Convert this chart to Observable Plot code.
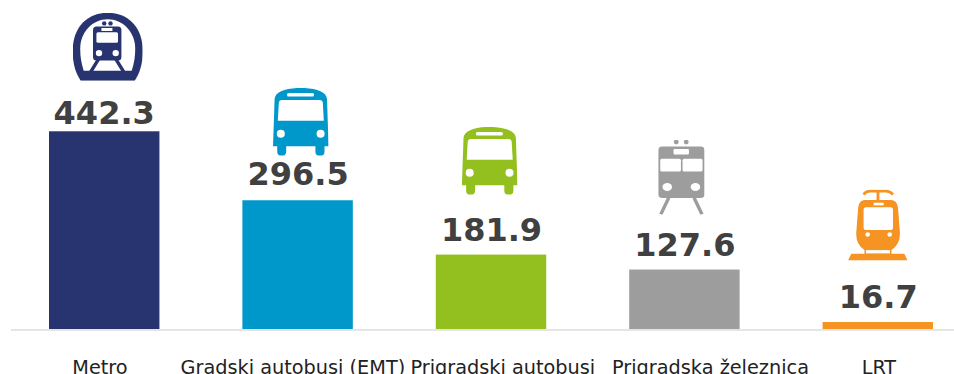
<!DOCTYPE html>
<html>
<head>
<meta charset="utf-8">
<script src="https://cdn.jsdelivr.net/npm/d3@7"></script>
<script src="https://cdn.jsdelivr.net/npm/@observablehq/plot@0.6"></script>
<style>
html,body{margin:0;padding:0;background:#fff;overflow:hidden}
svg{display:block}
</style>
</head>
<body>
<div id="chart"></div>
<script>
const categories = ["Metro", "Gradski autobusi (EMT)", "Prigradski autobusi", "Prigradska železnica", "LRT"];
// Values printed above the bars
const labelValues = [442.3, 296.5, 181.9, 127.6, 16.7];
// Bar lengths as drawn in the picture: the reference's bars are not exactly proportional to their printed labels
const barLengths = [442.3, 288, 166.5, 133, 15.6];
const palette = ["#27346f", "#0098cb", "#93c01f", "#9d9d9d", "#f59423"];

const busGlyph = (c) => `<svg xmlns="http://www.w3.org/2000/svg" viewBox="0 0 55.6 67.7">
<path fill="${c}" d="M0 58.4L1.6 11C2 4 13 0 27.8 0S53.6 4 54 11L55.6 58.4H51.5V64A4.5 4.2 0 0 1 42.4 64V58.4H13.2V64A4.5 4.2 0 0 1 4.2 64V58.4Z"/>
<rect x="14" y="5.2" width="27" height="3.4" rx="1.5" fill="#fff"/>
<path fill="#fff" d="M4.8 32.8L5.8 15Q6 12 9 12H46.6Q49.6 12 49.8 15L50.8 32.8Z"/>
<circle cx="7.8" cy="45.8" r="4" fill="#fff"/><circle cx="47.6" cy="45.8" r="4" fill="#fff"/>
</svg>`;

const metroGlyph = (c) => `<svg xmlns="http://www.w3.org/2000/svg" viewBox="0 0 70 68">
<path fill="${c}" d="M8 68C3 60 0 52 0 38C0 14 15 0 35 0S70 14 70 38C70 52 67 60 62 68Z"/>
<path fill="#fff" d="M11 58C8.5 50 7.5 44 7.5 36C7.5 19 20 6.5 35 6.5S62.5 19 62.5 36C62.5 44 61.5 50 59 58Z"/>
<circle cx="31.5" cy="10.6" r="2.2" fill="${c}"/><circle cx="37.8" cy="10.6" r="2.2" fill="${c}"/>
<rect x="20.3" y="13.6" width="28.4" height="34.2" rx="3.5" fill="${c}"/>
<rect x="23.7" y="19.4" width="21.6" height="10.6" rx="1.5" fill="#fff"/>
<rect x="28.7" y="15.2" width="11" height="3" fill="#fff"/>
<circle cx="26.3" cy="40.3" r="3.2" fill="#fff"/><circle cx="43" cy="40.3" r="3.2" fill="#fff"/>
<path stroke="${c}" stroke-width="3.4" fill="none" d="M26 46L18 59M43 46L51 59"/>
</svg>`;

const trainGlyph = (c) => `<svg xmlns="http://www.w3.org/2000/svg" viewBox="0 0 46.3 74.7">
<circle cx="18" cy="2.4" r="2.4" fill="${c}"/><circle cx="28" cy="2.4" r="2.4" fill="${c}"/>
<rect x="0" y="6.7" width="46.3" height="51.5" rx="4" fill="${c}"/>
<rect x="15.3" y="9.3" width="15.4" height="5.4" rx="1" fill="#fff"/>
<rect x="2" y="19" width="20.7" height="12.8" rx="1.5" fill="#fff"/><rect x="24.3" y="19" width="20" height="12.8" rx="1.5" fill="#fff"/>
<ellipse cx="9" cy="47.3" rx="4.8" ry="4" fill="#fff"/><ellipse cx="37.2" cy="47.3" rx="4.8" ry="4" fill="#fff"/>
<path stroke="${c}" stroke-width="3.4" fill="none" d="M10.5 58L2.5 74.7M35.8 58L43.8 74.7"/>
</svg>`;

const lrtGlyph = (c) => `<svg xmlns="http://www.w3.org/2000/svg" viewBox="0 0 59.6 71">
<path stroke="${c}" stroke-width="2.8" fill="none" d="M15.5 5Q18 1.5 22 1.5H38Q42 1.5 45 5"/>
<rect x="28.6" y="1.4" width="2.8" height="10" fill="${c}"/>
<path fill="${c}" d="M17 10.5H43Q49 10.5 50 18L52 44Q52 55 43.5 60.5V64.5H16.5V60.5Q8 55 8.2 44L10.2 18Q11 10.5 17 10.5Z"/>
<rect x="25.7" y="13.2" width="10" height="2.6" fill="#fff"/>
<rect x="15.6" y="17.8" width="29.4" height="22.6" rx="2.5" fill="#fff"/>
<circle cx="19.7" cy="45" r="2.3" fill="#fff"/><circle cx="41.7" cy="45" r="2.3" fill="#fff"/>
<rect x="18" y="60.6" width="24" height="3.4" fill="#fff"/>
<path fill="${c}" d="M3.3 64.3H56.3L59.6 71H0Z"/>
</svg>`;

const toUri = (svg) => "data:image/svg+xml;charset=utf-8," + encodeURIComponent(svg);

const table = categories.map((category, i) => ({category, value: labelValues[i], bar: barLengths[i]}));

const icon = (i, glyph, w, h, dx, dy) => Plot.image([table[i]], {
  x: "category", y: "bar", src: () => toUri(glyph(palette[i])),
  width: w, height: h, dx, dy, preserveAspectRatio: "none"
});

const valueLabel = (i, dx, dy) => Plot.text([table[i]], {
  x: "category", y: "bar", text: (d) => d.value.toFixed(1), dx, dy,
  fontSize: 32, fontWeight: 700, fill: "#404040", fontFamily: "DejaVu Sans", lineAnchor: "bottom"
});

const tickLabel = (i, dx) => Plot.axisX([categories[i]], {
  tickSize: 0, tickPadding: 31, fontSize: 19.3, fill: "#222", label: null, anchor: "bottom", dx
});

const chart = Plot.plot({
  width: 954, height: 374,
  marginLeft: 11, marginRight: 0, marginTop: 0, marginBottom: 45,
  style: {fontFamily: "DejaVu Sans", background: "#fff"},
  x: {domain: categories, range: [49, 933], paddingInner: 0.429, paddingOuter: 0, round: false, label: null},
  y: {domain: [0, 736], axis: null},
  color: {domain: categories, range: palette},
  marks: [
    Plot.ruleY([0], {stroke: "#dcdcdc", strokeWidth: 1.5, dy: 0.5}),
    Plot.barY(table, {x: "category", y: "bar", fill: "category"}),
    valueLabel(0, -0.5, -8), valueLabel(1, 0, -15.5), valueLabel(2, 0, -14), valueLabel(3, 0, -14), valueLabel(4, 0, -15),
    icon(0, metroGlyph, 70, 68, 3, -85),
    icon(1, busGlyph, 55.6, 67.7, 2.7, -79),
    icon(2, busGlyph, 55.6, 67.7, -1.8, -94.3),
    icon(3, trainGlyph, 46.3, 74.7, -3.5, -93),
    icon(4, lrtGlyph, 59.6, 71, -0.5, -97.5),
    tickLabel(0, -4.75), tickLabel(1, -5.2), tickLabel(2, 11.3), tickLabel(3, 25.6), tickLabel(4, 0.6)
  ]
});
document.getElementById("chart").append(chart);
</script>
</body>
</html>
